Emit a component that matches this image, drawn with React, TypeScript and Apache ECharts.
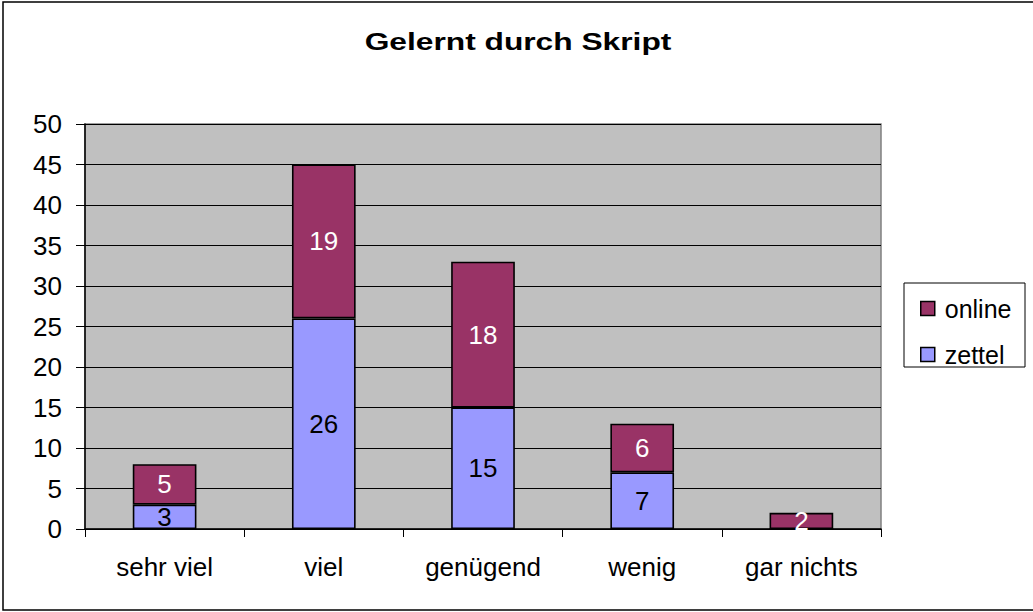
import React, { useEffect, useRef } from "react";
import * as echarts from "echarts";

const categories = ["sehr viel", "viel", "genügend", "wenig", "gar nichts"];
const zettel = [3, 26, 15, 7, 0];
const online = [5, 19, 18, 6, 2];
const yTicks = { min: 0, max: 50, interval: 5 };
const titleText = "Gelernt durch Skript";

export default function App() {
  const ref = useRef<HTMLDivElement>(null);
  useEffect(() => {
    const chart = echarts.init(ref.current!, null, { renderer: "svg" });
    const font = "Arial, 'Liberation Sans', sans-serif";
    const barStyle = (color: string) => ({ color, borderColor: "#000", borderWidth: 1.6 });
    const labelFmt = (p: any) => (p.value ? String(p.value) : "");
    chart.setOption({
      animation: false,
      backgroundColor: "#fff",
      textStyle: { fontFamily: font },
      grid: { left: 85, right: 152, top: 124, bottom: 83, show: true, backgroundColor: "#C0C0C0", borderColor: "#808080", borderWidth: 1.5 },
      legend: {
        orient: "vertical",
        left: 915,
        top: 291,
        itemWidth: 14,
        itemHeight: 14,
        itemGap: 21,
        icon: "rect",
        data: ["online", "zettel"],
        textStyle: { fontFamily: font, fontSize: 25, color: "#000", padding: [0, 0, 0, 5] },
        itemStyle: { borderColor: "#000", borderWidth: 1.5 },
      },
      xAxis: {
        type: "category",
        data: categories,
        axisLine: { lineStyle: { color: "#000", width: 1.5 } },
        axisTick: { show: true, length: 8, lineStyle: { color: "#000" } },
        axisLabel: { fontFamily: font, fontSize: 26, color: "#000", margin: 25 },
      },
      yAxis: {
        type: "value",
        min: yTicks.min,
        max: yTicks.max,
        interval: yTicks.interval,
        axisLine: { show: true, lineStyle: { color: "#000", width: 1.5 } },
        axisTick: { show: true, length: 9, lineStyle: { color: "#000" } },
        axisLabel: { fontFamily: font, fontSize: 26, color: "#000", margin: 23 },
        splitLine: { show: true, lineStyle: { color: "#000", width: 1 } },
      },
      graphic: [
        { type: "rect", shape: { x: 3, y: 2, width: 1100, height: 608 }, style: { fill: "none", stroke: "#000", lineWidth: 1.5 }, z: 100 },
        { type: "rect", shape: { x: 904, y: 283, width: 121, height: 84 }, style: { fill: "#fff", stroke: "#000", lineWidth: 1 }, z: -1 },
        {
          type: "text",
          x: 518,
          y: 42,
          scaleX: 1.38,
          style: { text: titleText, font: "bold 23px Arial, 'Liberation Sans', sans-serif", fill: "#000", textAlign: "center", textVerticalAlign: "middle" },
        },
      ],
      series: [
        {
          name: "zettel",
          type: "bar",
          stack: "a",
          data: zettel,
          barWidth: "40%",
          itemStyle: barStyle("#9999FF"),
          label: { show: true, position: "inside", color: "#000", fontFamily: font, fontSize: 26, formatter: labelFmt },
        },
        {
          name: "online",
          type: "bar",
          stack: "a",
          data: online,
          barWidth: "40%",
          itemStyle: barStyle("#993366"),
          label: { show: true, position: "inside", color: "#fff", fontFamily: font, fontSize: 26, formatter: labelFmt },
        },
      ],
    });
    return () => chart.dispose();
  }, []);
  return <div ref={ref} style={{ position: "fixed", left: 0, top: 0, width: 1033, height: 612 }} />;
}
